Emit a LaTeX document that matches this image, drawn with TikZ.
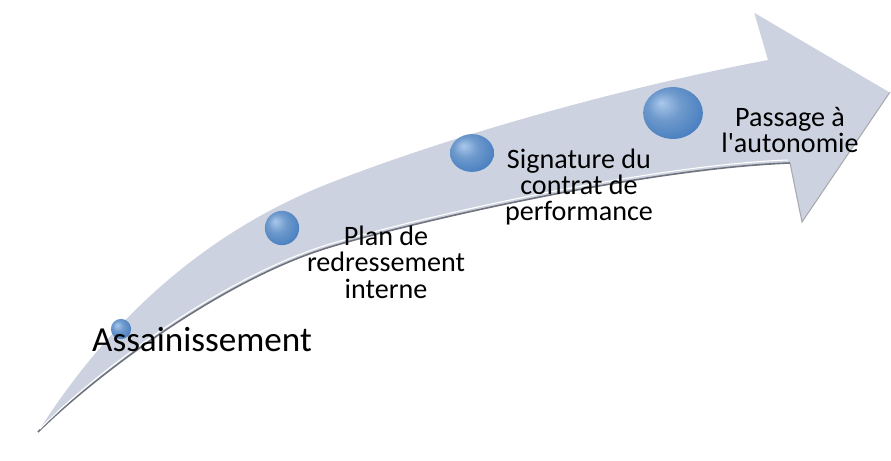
\documentclass[tikz,border=0pt]{standalone}
\usepackage{fontspec}
\setmainfont{Carlito}[Ligatures=TeXOff]
\usetikzlibrary{shapes.geometric}
\definecolor{arrowfill}{RGB}{204,210,223}
\definecolor{arrowedge}{RGB}{110,114,124}
\definecolor{ballblue}{RGB}{74,128,192}
\definecolor{stonehi}{RGB}{170,200,235}
\pgfdeclareradialshading{stoneshade}{\pgfpoint{-10bp}{10bp}}{color(0bp)=(stonehi); color(14bp)=(ballblue!80!white); color(30bp)=(ballblue); color(42bp)=(ballblue!80!black); color(50bp)=(ballblue!65!black)}
\tikzset{
  stone/.style={ellipse,inner sep=0pt,shading=stoneshade},
  stagetext/.style={align=center,font=\fontsize{16}{15}\selectfont}
}
\begin{document}
\begin{tikzpicture}[x=0.02cm,y=-0.02cm]
        \useasboundingbox (0,0) rectangle (891,460);
        % curved arrow
        \fill[arrowfill] (38,432) .. controls (115,310) and (215,228) .. (330,183)
          .. controls (450,136) and (620,88) .. (768,60)
          -- (754,12) -- (890,92) -- (802,222) -- (790,163)
          .. controls (650,168) and (420,220) .. (330,247)
          .. controls (220,280) and (90,380) .. (38,432) -- cycle;
        \draw[arrowedge,line width=0.9pt] (790,163) .. controls (650,168) and (420,220) .. (330,247)
          .. controls (220,280) and (90,380) .. (38,432);
        \draw[white,line width=0.6pt] (788,160) .. controls (650,165) and (420,217) .. (330,244)
          .. controls (220,277) and (90,377) .. (40,429);
        \draw[arrowedge!60,line width=0.6pt] (790,163) -- (802,222) -- (890,92);
        \draw[white,line width=0.5pt] (754,12) -- (890,92);
        % stages
        \node[stone,minimum width=11.5pt,minimum height=11.5pt] (b1) at (121,329) {};
        \node[stone,minimum width=19.5pt,minimum height=19.5pt] (b2) at (282,228) {};
        \node[stone,minimum width=25pt,minimum height=21.5pt] (b3) at (472,153) {};
        \node[stone,minimum width=34pt,minimum height=29.5pt] (b4) at (673,113) {};
        \node[font=\fontsize{20}{21}\selectfont] (t1) at (202,340) {Assainissement};
        \node[stagetext] (t2) at (386,262) {Plan de\\redressement\\interne};
        \node[stagetext] (t3) at (579,187) {Signature du\\contrat de\\performance};
        \node[stagetext] (t4) at (790,130) {Passage à\\l'autonomie};
      \end{tikzpicture}
\end{document}
